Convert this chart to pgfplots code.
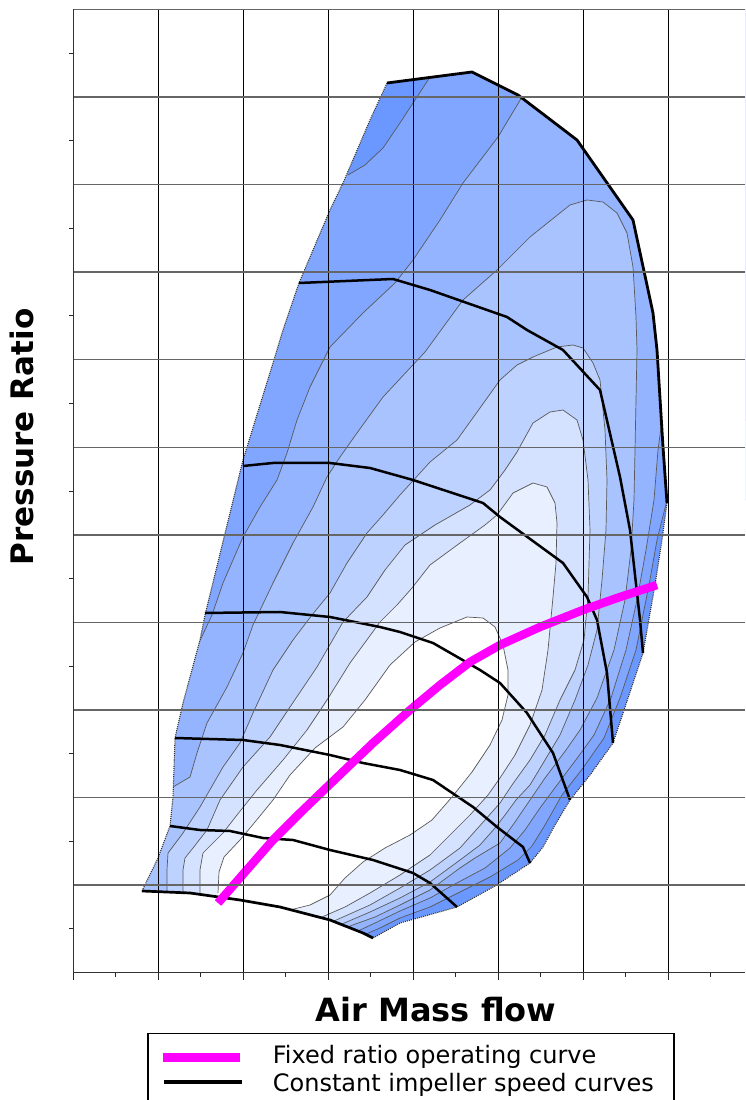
\documentclass[border=0pt]{standalone}
\usepackage{pgfplots}
\pgfplotsset{compat=1.18}
\usepackage{fontspec}
\setmainfont{DejaVu Sans}
\definecolor{c0}{HTML}{6B98FF}
\definecolor{c1}{HTML}{80A6FF}
\definecolor{c2}{HTML}{94B4FF}
\definecolor{c3}{HTML}{A9C3FF}
\definecolor{c4}{HTML}{BED2FF}
\definecolor{c5}{HTML}{D4E1FF}
\definecolor{c6}{HTML}{E8EFFF}
\definecolor{opmag}{HTML}{FF00FF}
\begin{document}
\begin{tikzpicture}
\begin{axis}[
  at={(73.3pt,127.3pt)}, anchor=south west,
  width=671.7pt, height=963.2pt, scale only axis,
  xmin=73.3, xmax=745, ymin=-972.7, ymax=-9.5,
  axis x line*=bottom, axis y line*=left,
  axis line style={-, black!80, line width=1.2pt},
  axis on top,
  grid=major,
  major x grid style={black, line width=1.2pt},
  major y grid style={black!60, line width=1.4pt},
  xtick={73.3,158.3,243.3,328.3,413.3,498.3,583.3,668.3},
  minor xtick={115.8,200.8,285.8,370.8,455.8,540.8,625.8,710.8},
  ytick={-972.7,-885.1,-797.5,-710,-622.4,-534.9,-447.3,-359.7,-272.2,-184.6,-97.1,-9.5},
  minor ytick={-928.9,-841.3,-753.75,-666.2,-578.65,-491.1,-403.5,-315.95,-228.4,-140.85,-53.3},
  xticklabels={}, yticklabels={},
  tick align=outside,
  major tick length=7pt, minor tick length=4pt,
  tick style={black!85, line width=1pt},
  major y tick style={draw=none},
  xlabel={Air Mass flow},
  xlabel style={at={(axis description cs:0.540,-0.0387)}, anchor=center, font=\bfseries\fontsize{32}{38}\selectfont},
  ylabel={Pressure Ratio},
  ylabel style={at={(axis description cs:-0.0764,0.5562)}, anchor=center, font=\bfseries\fontsize{31}{37}\selectfont},
  legend cell align=left,
  legend style={at={(axis description cs:0.1102,-0.0629)}, anchor=north west,
    draw=black, line width=1.2pt, inner xsep=0pt, inner ysep=8.7pt,
    column sep=0pt, row sep=0pt,
    font=\fontsize{24}{28}\selectfont,
    nodes={inner sep=0pt, text height=21pt, text depth=7pt}},
]
% envelope (outermost level)
\addplot[forget plot, fill=c0, draw=none] coordinates {
(142,-891) (158,-858) (170,-826) (173,-797) (175,-738) (183,-703) (200,-640) (205,-615) (243,-460) (273,-363) (283,-330) (299,-283) (330,-210) (343,-183) (370,-120) (387,-83) (472,-72) (518,-95) (577,-140) (633,-220) (653,-313) (657,-350) (663,-447) (667,-503) (662,-540) (655,-585) (643,-653) (628,-698) (613,-743) (590,-775) (570,-800) (555,-825) (543,-847) (530,-863) (495,-886) (457,-907) (400,-923) (373,-938) (363,-933) (330,-920) (280,-907) (240,-900) (190,-893) (142,-891)};
% level 1
\addplot[forget plot, fill=c1, draw=black!65, line width=0.7pt] coordinates {
(348,-175) (365,-165) (383,-148) (400,-123) (415,-100) (430,-77)
(430,0) (760,0) (760,-500) (667,-500)
(657,-540) (649,-585) (636,-650) (620,-698) (604,-738) (583,-768) (562,-795) (545,-825) (532,-846) (518,-860) (490,-877) (458,-893) (430,-907) (400,-918) (380,-928) (366,-934)
(366,-1000) (100,-1000) (100,-175)};
% level 2
\addplot[forget plot, fill=c2, draw=black!65, line width=0.7pt] coordinates {
(197,-647) (212,-615) (223,-583) (243,-537) (260,-507) (277,-480) (287,-453) (297,-420) (310,-387) (330,-347) (363,-313) (395,-283) (413,-260) (440,-220) (463,-183) (498,-137) (522,-97)
(522,0) (760,0) (760,-420) (662,-420)
(658,-450) (654,-500) (646,-550) (637,-600) (626,-650) (611,-698) (594,-735) (578,-757) (557,-785) (540,-808) (525,-830) (510,-848) (485,-868) (455,-884) (430,-898) (400,-911) (375,-923) (358,-931)
(358,-1000) (100,-1000) (100,-647)};
% level 3
\addplot[forget plot, fill=c3, draw=black!65, line width=0.7pt] coordinates {
(173,-787) (190,-777) (197,-753) (207,-723) (227,-687) (243,-653) (253,-625) (273,-583) (293,-543) (313,-507) (327,-477) (340,-457) (357,-433) (383,-397) (425,-352) (463,-300) (497,-270) (530,-237) (570,-205) (587,-200) (603,-202) (617,-213) (627,-233) (633,-267) (636,-317) (637,-350) (636,-400) (635,-450) (634,-500) (631,-550) (625,-600) (614,-650) (597,-698) (580,-730) (566,-750) (545,-778) (530,-800) (515,-822) (500,-843) (475,-858) (460,-868) (430,-890) (400,-905) (375,-917) (350,-926)
(350,-1000) (100,-1000) (100,-787)};
% level 4
\addplot[forget plot, fill=c4, draw=black!65, line width=0.7pt] coordinates {
(167,-893) (167,-870) (168,-853) (183,-833) (200,-807) (223,-767) (240,-743) (253,-713) (273,-670) (293,-640) (312,-615) (330,-593) (347,-563) (367,-533) (383,-515) (400,-495) (430,-462) (457,-440) (480,-408) (500,-380) (517,-365) (533,-357) (557,-347) (573,-345) (583,-348) (593,-363) (600,-380) (605,-430) (607,-480) (606,-530) (602,-580) (597,-630) (588,-665) (575,-700) (560,-735) (548,-755) (530,-785) (516,-800) (505,-815) (495,-828) (480,-845) (460,-860) (430,-882) (400,-898) (370,-912) (342,-924)
(342,-1000) (167,-1000)};
% level 5
\addplot[forget plot, fill=c5, draw=black!65, line width=0.7pt] coordinates {
(183,-893) (183,-870) (185,-858) (193,-848) (207,-830) (220,-800) (243,-767) (270,-737) (290,-707) (317,-667) (343,-622) (367,-597) (385,-570) (405,-545) (435,-525) (470,-505) (490,-490) (505,-470) (517,-452) (533,-423) (550,-412) (563,-410) (577,-420) (583,-440) (588,-480) (590,-530) (588,-597) (584,-640) (575,-670) (560,-700) (545,-735) (530,-760) (512,-785) (500,-803) (485,-820) (460,-848) (430,-870) (400,-888) (370,-905) (334,-921)
(334,-1000) (183,-1000)};
% level 6
\addplot[forget plot, fill=c6, draw=black!65, line width=0.7pt] coordinates {
(200,-893) (200,-870) (203,-853) (223,-833) (237,-815) (257,-790) (283,-760) (307,-730) (327,-700) (350,-663) (380,-622) (397,-605) (412,-588) (430,-565) (460,-543) (485,-525) (497,-515) (513,-493) (533,-483) (547,-487) (555,-503) (557,-523) (556,-563) (553,-597) (548,-650) (542,-690) (530,-725) (515,-755) (500,-778) (488,-795) (470,-815) (450,-835) (430,-855) (400,-875) (370,-893) (345,-907) (322,-917)
(322,-1000) (200,-1000)};
% level 7 (white island)
\addplot[forget plot, fill=white, draw=black!65, line width=0.7pt] coordinates {
(218,-893) (219,-872) (224,-857) (240,-840) (255,-822) (273,-800) (290,-775) (315,-748) (343,-727) (365,-700) (390,-665) (415,-642) (440,-628) (467,-617) (483,-618) (495,-627) (503,-645) (508,-670) (508,-695) (502,-720) (490,-745) (472,-772) (452,-797) (432,-820) (410,-835) (385,-848) (363,-862) (345,-878) (330,-895) (310,-905) (290,-910)
(290,-1000) (218,-1000)};
% mask outside the map
\addplot[forget plot, fill=white, draw=none, even odd rule] coordinates {
(50,-1000) (50,0) (760,0) (760,-1000) (373,-1000) (373,-938)
(400,-923) (457,-907) (495,-886) (530,-863) (543,-847) (555,-825) (570,-800) (590,-775) (613,-743) (628,-698) (643,-653) (655,-585) (662,-540) (667,-503) (663,-447) (657,-350) (653,-313) (633,-220) (577,-140) (518,-95) (472,-72) (387,-83) (370,-120) (343,-183) (330,-210) (299,-283) (283,-330) (273,-363) (243,-460) (205,-615) (200,-640) (183,-703) (175,-738) (173,-797) (170,-826) (158,-858) (142,-891) (190,-893) (240,-900) (280,-907) (330,-920) (363,-933) (373,-938)
(373,-1000) (50,-1000)};
% surge line and choke edge (dotted)
\addplot[forget plot, black!80, line width=1.1pt, densely dotted] coordinates {
(142,-891) (158,-858) (170,-826) (173,-797) (175,-738) (183,-703) (200,-640) (205,-615) (243,-460) (273,-363) (283,-330) (299,-283) (330,-210) (343,-183) (370,-120) (387,-83)};
\addplot[forget plot, black!80, line width=1.1pt, densely dotted] coordinates {
(667,-503) (662,-540) (655,-585) (643,-653) (628,-698) (613,-743) (590,-775) (570,-800) (555,-825) (543,-847) (530,-863) (495,-886) (457,-907) (400,-923) (373,-938)};
% constant speed lines
\addplot[forget plot, black, line width=2.7pt, line join=round] coordinates {
(142,-891) (190,-893) (240,-900) (280,-907) (330,-920) (363,-933) (373,-938)};
\addplot[forget plot, black, line width=2.5pt, line join=round] coordinates {
(170,-826) (200,-830) (230,-831) (263,-838) (293,-840) (330,-850) (373,-860) (413,-873) (430,-883) (457,-907)};
\addplot[forget plot, black, line width=2.5pt, line join=round] coordinates {
(175,-738) (243,-740) (280,-745) (330,-755) (363,-763) (400,-770) (433,-780) (473,-807) (497,-827) (523,-847) (530,-863)};
\addplot[forget plot, black, line width=2.5pt, line join=round] coordinates {
(205,-613) (280,-612) (330,-617) (380,-627) (400,-632) (433,-643) (480,-670) (500,-683) (527,-713) (553,-753) (570,-800)};
\addplot[forget plot, black, line width=2.5pt, line join=round] coordinates {
(243,-466) (273,-463) (330,-463) (370,-468) (413,-480) (483,-503) (500,-517) (563,-563) (587,-597) (597,-620) (607,-673) (613,-743)};
\addplot[forget plot, black, line width=2.5pt, line join=round] coordinates {
(299,-283) (393,-279) (430,-290) (507,-317) (527,-330) (563,-350) (600,-390) (620,-477) (630,-530) (640,-620) (643,-653)};
\addplot[forget plot, black, line width=2.8pt, line join=round] coordinates {
(387,-83) (472,-72) (518,-95) (577,-140) (633,-220) (653,-313) (657,-350) (663,-447) (667,-503)};
% fixed ratio operating curve
\addplot[forget plot, opmag, line width=8.5pt, line join=round] coordinates {
(218,-903) (245,-872) (273,-840) (300,-813) (327,-787) (350,-765) (373,-743) (410,-710) (440,-685) (470,-662) (500,-645) (540,-627) (583,-610) (620,-597) (657,-585)};
\addlegendimage{legend image code/.code={\path[draw=none,fill=none] (0pt,0pt) (125pt,0pt); \draw[opmag, line width=8.5pt] (15pt,-1pt) -- (92pt,-1pt);}}
\addlegendentry{\makebox[401pt][l]{Fixed ratio operating curve}}
\addlegendimage{legend image code/.code={\path[draw=none,fill=none] (0pt,0pt) (125pt,0pt); \draw[black, line width=3.2pt] (16pt,2.5pt) -- (94pt,2.5pt);}}
\addlegendentry{\makebox[401pt][l]{Constant impeller speed curves}}
\end{axis}
\pgfresetboundingbox
\useasboundingbox (0,0) rectangle (745pt,1100pt);
\end{tikzpicture}
\end{document}
